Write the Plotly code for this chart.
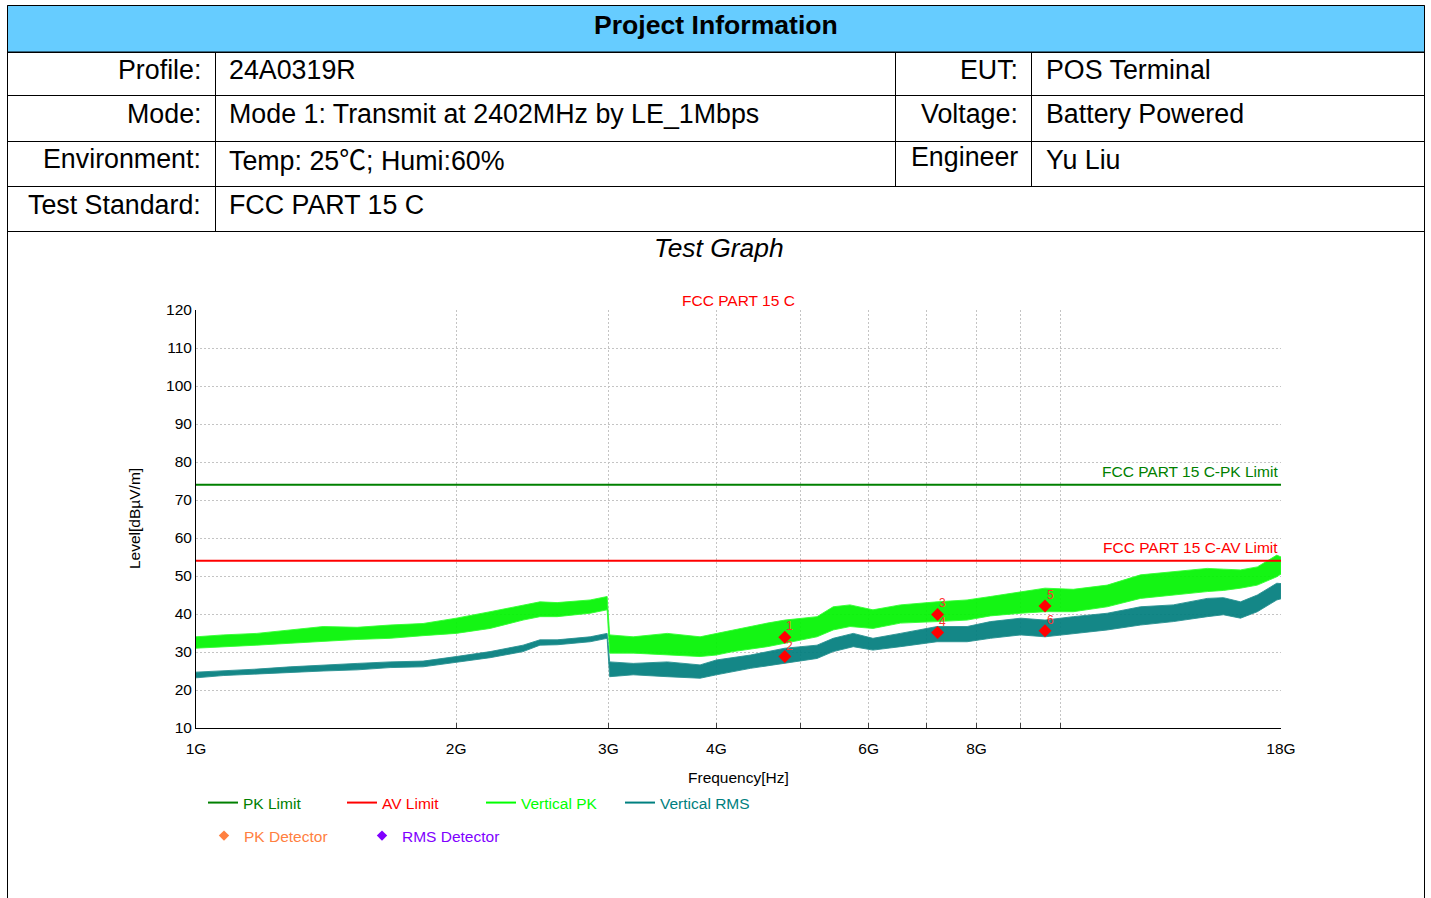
import math
import plotly.graph_objects as go

# ---------------- data ----------------
# Frequencies in GHz; band = upper / lower envelope of the noisy sweep traces
freq_pk = [1.0, 1.075, 1.176, 1.285, 1.403, 1.536, 1.677, 1.831, 2.0, 2.189, 2.39, 2.5, 2.617, 2.858, 2.99,
           3.01, 3.205, 3.51, 3.83, 4.0, 4.18, 4.58, 4.8, 5.23, 5.46, 5.71, 6.07, 6.53, 7.2, 7.8, 8.3,
           9.0, 9.6, 10.35, 11.33, 12.38, 13.51, 14.79, 15.44, 16.16, 16.9, 17.8, 18.0]
pk_hi = [34.0, 34.5, 34.9, 35.8, 36.7, 36.5, 37.1, 37.5, 38.9, 40.6, 42.4, 43.2, 43.0, 43.7, 44.6,
         34.5, 34.0, 34.9, 34.0, 34.9, 35.8, 37.6, 38.4, 39.3, 41.9, 42.4, 41.1, 42.4, 43.2, 43.7, 44.6,
         45.9, 46.8, 46.5, 47.6, 50.3, 51.1, 52.0, 51.8, 51.6, 52.4, 55.5, 55.0]
pk_lo = [31.0, 31.4, 31.8, 32.3, 32.7, 33.3, 33.6, 34.3, 34.9, 36.2, 38.4, 39.3, 39.3, 40.2, 41.1,
         29.7, 29.7, 29.2, 28.8, 29.2, 30.1, 31.4, 32.3, 34.0, 35.8, 36.7, 36.2, 37.6, 38.0, 38.4, 39.5,
         40.2, 40.6, 40.6, 41.9, 44.1, 45.0, 45.9, 46.2, 46.8, 47.6, 49.8, 50.5]

freq_rms = [1.0, 1.075, 1.176, 1.285, 1.403, 1.536, 1.677, 1.831, 2.0, 2.189, 2.39, 2.5, 2.617, 2.858, 2.99,
            3.01, 3.205, 3.51, 3.83, 4.0, 4.38, 4.8, 5.23, 5.46, 5.76, 6.07, 6.53, 7.2, 7.8, 8.3,
            9.0, 9.6, 10.35, 11.33, 12.38, 13.51, 14.79, 15.44, 16.16, 16.9, 17.8, 18.0]
rms_hi = [24.7, 25.0, 25.5, 26.1, 26.6, 27.0, 27.4, 27.6, 28.8, 30.1, 31.8, 33.2, 33.2, 34.0, 34.9,
          27.4, 27.0, 27.4, 26.6, 27.9, 29.2, 31.0, 31.8, 33.6, 34.9, 33.6, 34.9, 36.7, 36.7, 38.0,
          38.9, 38.4, 39.3, 40.2, 41.9, 42.4, 44.1, 44.3, 43.2, 45.0, 48.1, 48.0]
rms_lo = [23.2, 23.8, 24.1, 24.6, 25.0, 25.3, 25.9, 26.1, 27.3, 28.5, 30.1, 31.8, 31.9, 32.7, 33.6,
          23.5, 24.0, 23.5, 23.1, 24.0, 25.7, 27.0, 28.3, 30.1, 31.4, 30.5, 31.4, 32.7, 32.7, 33.6,
          34.5, 34.0, 34.9, 35.8, 37.1, 38.0, 39.3, 39.8, 38.9, 40.6, 43.7, 44.0]

limit_freq = [1.0, 18.0]
pk_limit = [74.0, 74.0]
av_limit = [54.0, 54.0]

marker_freq = [4.80, 4.80, 7.21, 7.21, 9.60, 9.60]
marker_level = [33.9, 28.8, 39.9, 35.1, 42.1, 35.6]
marker_label = ["1", "2", "3", "4", "5", "6"]

x_tickvals = [1, 2, 3, 4, 5, 6, 7, 8, 9, 10, 18]
x_ticktext = ["1G", "2G", "3G", "4G", "", "6G", "", "8G", "", "", "18G"]

CJK = '<span style="font-family:Noto Sans CJK SC">\u2103</span>'
info_left = [("Profile:", "24A0319R"),
             ("Mode:", "Mode 1: Transmit at 2402MHz by LE_1Mbps"),
             ("Environment:", "Temp: 25" + CJK + "; Humi:60%"),
             ("Test Standard:", "FCC PART 15 C")]
info_right = [("EUT:", "POS Terminal"),
              ("Voltage:", "Battery Powered"),
              ("Engineer", "Yu Liu")]

# ---------------- layout helpers (pixel -> paper) ----------------
W, H = 1431, 898
L, R, T, B = 196, 1281, 310, 728


def px(x):
    return (x - L) / (R - L)


def py(y):
    return (B - y) / (B - T)


FONT = "Liberation Sans, Arial, sans-serif"
C_PKLIM = "#008000"
C_AVLIM = "#FF0000"
C_VPK = "#00FF00"
C_VRMS = "#008080"

fig = go.Figure()

# Vertical PK band
fig.add_trace(go.Scatter(
    x=freq_pk + freq_pk[::-1], y=pk_hi + pk_lo[::-1],
    fill="toself", fillcolor="rgba(0,244,0,0.92)", mode="lines",
    line=dict(color="rgba(50,255,50,0.9)", width=1), showlegend=False, hoverinfo="skip"))
# Vertical RMS band
fig.add_trace(go.Scatter(
    x=freq_rms + freq_rms[::-1], y=rms_hi + rms_lo[::-1],
    fill="toself", fillcolor="rgba(0,125,125,0.92)", mode="lines",
    line=dict(color="rgba(40,145,145,0.9)", width=1), showlegend=False, hoverinfo="skip"))

# Limits
fig.add_trace(go.Scatter(x=limit_freq, y=pk_limit, mode="lines",
                         line=dict(color=C_PKLIM, width=2), showlegend=False))
fig.add_trace(go.Scatter(x=limit_freq, y=av_limit, mode="lines",
                         line=dict(color=C_AVLIM, width=2), showlegend=False))

# Markers
fig.add_trace(go.Scatter(x=marker_freq, y=marker_level, mode="markers",
                         marker=dict(symbol="diamond", size=10, color="#FF0000"),
                         showlegend=False))

# Legend entries
legend_lines = [("PK Limit", C_PKLIM), ("AV Limit", C_AVLIM),
                ("Vertical PK", C_VPK), ("Vertical RMS", C_VRMS)]
for name, col in legend_lines:
    fig.add_trace(go.Scatter(x=[None], y=[None], mode="lines", line=dict(color=col, width=2),
                             name=f'<span style="color:{col}">{name}</span>', legend="legend"))
legend_marks = [("PK Detector", "#FF8040"), ("RMS Detector", "#8000FF")]
for name, col in legend_marks:
    fig.add_trace(go.Scatter(x=[None], y=[None], mode="markers",
                             marker=dict(symbol="diamond", size=8, color=col),
                             name=f'<span style="color:{col}">{name}</span>', legend="legend2"))

# ---------------- table shapes ----------------
shapes = []
shapes.append(dict(type="rect", xref="paper", yref="paper",
                   x0=px(7.5), x1=px(1424.5), y0=py(52), y1=py(5.5),
                   fillcolor="#66CCFF", line=dict(color="black", width=1), layer="below"))


def hline(y, x0=7.5, x1=1424.5):
    shapes.append(dict(type="line", xref="paper", yref="paper", x0=px(x0), x1=px(x1),
                       y0=py(y), y1=py(y), line=dict(color="black", width=1)))


def vline(x, y0, y1):
    shapes.append(dict(type="line", xref="paper", yref="paper", x0=px(x), x1=px(x),
                       y0=py(y0), y1=py(y1), line=dict(color="black", width=1)))


for yy in [52.5, 95.5, 141.5, 186.5, 231.5]:
    hline(yy)
vline(7.5, 5.5, 898)
vline(1424.5, 5.5, 898)
vline(215.5, 52.5, 231.5)
vline(895.5, 52.5, 186.5)
vline(1031.5, 52.5, 186.5)

annotations = []


def txt(x, y, s, size=26.8, anchor="left", color="black", bold=False, italic=False):
    if bold:
        s = f"<b>{s}</b>"
    if italic:
        s = f"<i>{s}</i>"
    annotations.append(dict(xref="paper", yref="paper", x=px(x), y=py(y), text=s,
                            showarrow=False, xanchor=anchor, yanchor="middle",
                            font=dict(family=FONT, size=size, color=color)))


txt(716, 25, "Project Information", size=26.6, anchor="center", bold=True)
left_rows_y = [70, 114, 159, 205]
for (lab, val), yy in zip(info_left, left_rows_y):
    txt(203, yy, lab, anchor="right")
    txt(227, yy, val, anchor="left")
right_rows_y = [70, 114, 157]
for (lab, val), yy in zip(info_right, right_rows_y):
    txt(1020, yy, lab, anchor="right")
    txt(1044, yy if lab != "Engineer" else 160, val, anchor="left")
txt(719, 248, "Test Graph", size=26.4, anchor="center", italic=True)

# chart texts
txt(738, 300, "FCC PART 15 C", size=15.5, anchor="center", color="#FF0000")
txt(1280, 471, "FCC PART 15 C-PK Limit", size=15.5, anchor="right", color=C_PKLIM)
txt(1280, 547, "FCC PART 15 C-AV Limit", size=15.5, anchor="right", color=C_AVLIM)
txt(738, 777, "Frequency[Hz]", size=15.5, anchor="center")
annotations.append(dict(xref="paper", yref="paper", x=px(134), y=py(519), text="Level[dB\u00b5V/m]",
                        showarrow=False, textangle=-90, xanchor="center", yanchor="middle",
                        font=dict(family=FONT, size=15.5, color="black")))

# marker number labels
for f, lv, lab in zip(marker_freq, marker_level, marker_label):
    annotations.append(dict(xref="x", yref="y", x=math.log10(f), y=lv, text=lab, showarrow=False,
                            xshift=5, yshift=11, font=dict(family=FONT, size=12, color="#FF3030")))

grid = dict(showgrid=True, gridcolor="#C4C4C4", gridwidth=1, griddash="2px,2px")

fig.update_layout(
    width=W, height=H, autosize=False,
    margin=dict(l=L, r=W - R, t=T, b=H - B, pad=0),
    paper_bgcolor="white", plot_bgcolor="white",
    font=dict(family=FONT, size=15.5, color="black"),
    showlegend=True,
    shapes=shapes, annotations=annotations,
    xaxis=dict(type="log", range=[0, math.log10(18)], tickvals=x_tickvals, ticktext=x_ticktext,
               ticks="inside", ticklen=5, tickcolor="#404040", showline=True, linecolor="black",
               linewidth=1, zeroline=False, tickfont=dict(size=15.5), ticklabelstandoff=6, **grid),
    yaxis=dict(range=[10, 120], tick0=0, dtick=10, ticks="", showline=True, linecolor="black",
               linewidth=1, zeroline=False, tickfont=dict(size=15.5), ticklabelstandoff=0, **grid),
    legend=dict(orientation="h", x=px(203), y=py(803), xanchor="left", yanchor="middle",
                entrywidth=94, entrywidthmode="pixels", bgcolor="rgba(0,0,0,0)",
                font=dict(size=15.5, family=FONT), itemwidth=30, borderwidth=0),
    legend2=dict(orientation="h", x=px(204), y=py(836), xanchor="left", yanchor="middle",
                 entrywidth=113, entrywidthmode="pixels", bgcolor="rgba(0,0,0,0)",
                 font=dict(size=15.5, family=FONT), itemwidth=30, borderwidth=0),
)

fig.write_html("out.html", config={"displayModeBar": False},
               post_script="document.body.style.margin='0';")
